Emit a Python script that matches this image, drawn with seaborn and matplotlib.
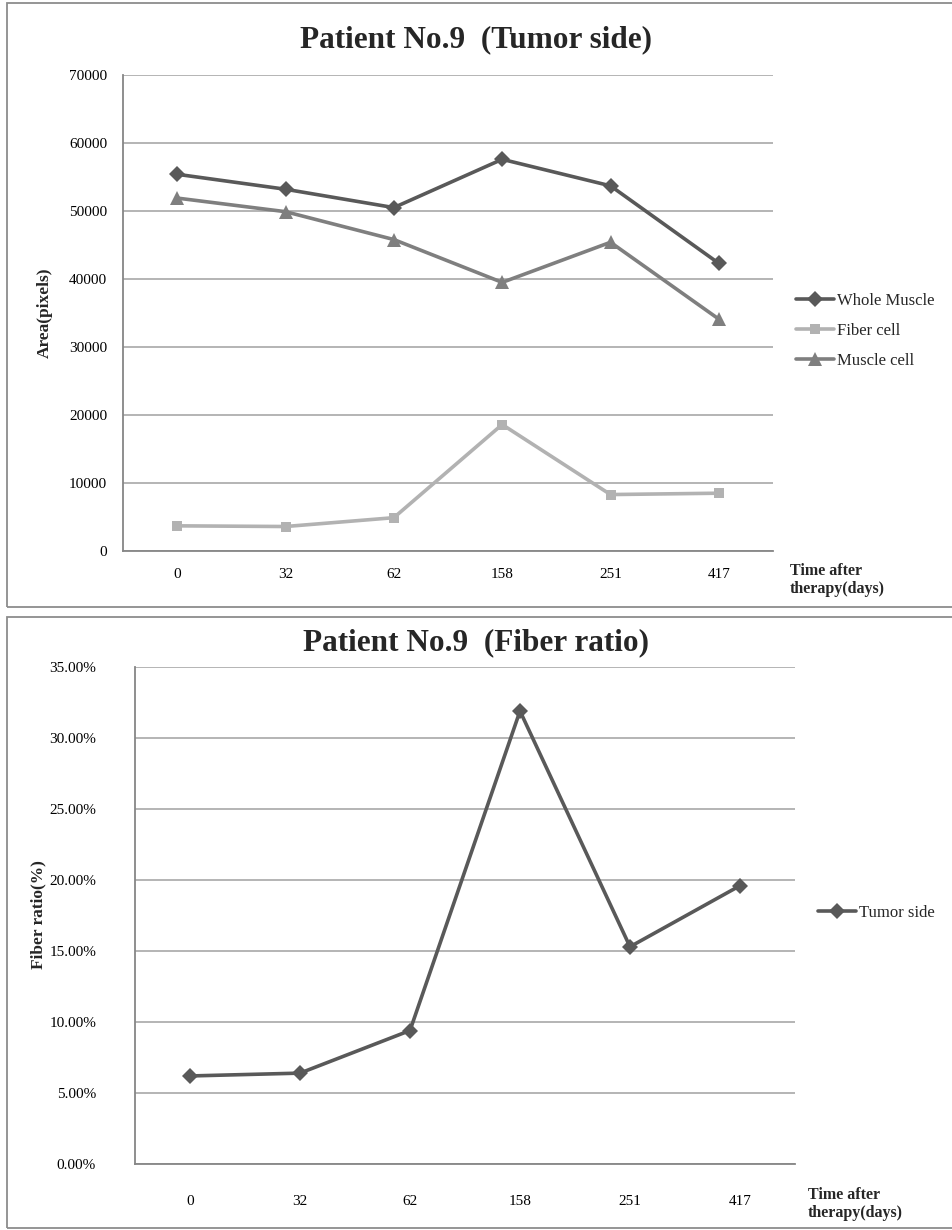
import matplotlib
matplotlib.use("Agg")
import matplotlib.pyplot as plt
from matplotlib.patches import Rectangle
from matplotlib.ticker import FuncFormatter, MultipleLocator
import seaborn as sns
import pandas as pd

# ---- data ----
days = ["0", "32", "62", "158", "251", "417"]
whole_muscle = [55400, 53200, 50500, 57600, 53700, 42300]
fiber_cell = [3700, 3600, 4900, 18600, 8300, 8500]
muscle_cell = [51900, 49900, 45800, 39500, 45400, 34100]
fiber_ratio = [6.2, 6.4, 9.4, 31.9, 15.3, 19.6]   # percent

series_names = ["Whole Muscle", "Fiber cell", "Muscle cell"]
series_colors = ["#595959", "#b2b2b2", "#7f7f7f"]
series_markers = ["D", "s", "^"]
marker_sizes = {"D": 8.0, "s": 7.5, "^": 10.0}

sns.set_theme(style="white")
plt.rcParams["font.family"] = ["Liberation Serif", "DejaVu Serif"]

W, H = 952, 1230
fig = plt.figure(figsize=(W / 100, H / 100), dpi=100)
fig.patch.set_facecolor("white")


def fx(px):
    return px / W


def fy(py):
    return 1 - py / H


def panel(x0, y0, x1, y1):
    fig.add_artist(Rectangle((fx(x0), fy(y1)), fx(x1) - fx(x0), fy(y0) - fy(y1),
                             transform=fig.transFigure, fill=False,
                             edgecolor="#8c8c8c", linewidth=1.3))


def add_axes(x0, y0, x1, y1):
    return fig.add_axes([fx(x0), fy(y1), fx(x1) - fx(x0), fy(y0) - fy(y1)])


def style_axes(ax, ypad, xpad):
    ax.set_facecolor("white")
    ax.grid(axis="y", color="#a0a0a0", linewidth=1.1)
    ax.grid(axis="x", visible=False)
    ax.set_axisbelow(True)
    for s in ["top", "right"]:
        ax.spines[s].set_visible(False)
    for s in ["left", "bottom"]:
        ax.spines[s].set_color("#868686")
        ax.spines[s].set_linewidth(1.3)
    ax.set_xlim(-0.5, len(days) - 0.5)
    ax.tick_params(axis="both", length=0, colors="black", labelsize=11)
    ax.tick_params(axis="y", pad=ypad)
    ax.tick_params(axis="x", pad=xpad)
    ax.set_xlabel("")
    ax.set_ylabel("")
    for ln in ax.lines:
        m = ln.get_marker()
        if m in marker_sizes:
            ln.set_markersize(marker_sizes[m])


def place_legend(ax, ycenter):
    leg = ax.legend(loc="center left", bbox_to_anchor=(1.035, ycenter),
                    frameon=False, fontsize=12, handlelength=2.3,
                    handletextpad=0.15, labelspacing=0.85, borderaxespad=0,
                    borderpad=0)
    for h in leg.legend_handles:
        m = h.get_marker()
        if m in marker_sizes:
            h.set_markersize(marker_sizes[m])
        h.set_linewidth(2.6)
    return leg


# ---- top panel: areas ----
panel(7, 3, 960, 607)
ax1 = add_axes(123, 75, 773, 551)

area_df = pd.DataFrame({
    "day": days * 3,
    "area": whole_muscle + fiber_cell + muscle_cell,
    "series": sum([[n] * len(days) for n in series_names], []),
})
sns.lineplot(data=area_df, x="day", y="area", hue="series", style="series",
             hue_order=series_names, style_order=series_names,
             palette=dict(zip(series_names, series_colors)),
             markers=dict(zip(series_names, series_markers)),
             dashes=False, sort=False, linewidth=2.6,
             markeredgewidth=0, ax=ax1)
ax1.set_ylim(0, 70000)
ax1.yaxis.set_major_locator(MultipleLocator(10000))
style_axes(ax1, ypad=11.5, xpad=12)
place_legend(ax1, 0.462)

fig.text(fx(476), fy(40), "Patient No.9  (Tumor side)", ha="center", va="center",
         fontsize=22.5, fontweight="bold")
fig.text(fx(45), fy(313), "Area(pixels)", ha="center", va="center",
         rotation=90, fontsize=12.5, fontweight="bold")
fig.text(fx(790), fy(580), "Time after\ntherapy(days)", ha="left", va="center",
         fontsize=11.5, fontweight="bold", linespacing=1.15)

# ---- bottom panel: fiber ratio ----
panel(7, 617, 960, 1228)
ax2 = add_axes(135, 667, 795, 1164)

ratio_df = pd.DataFrame({"day": days, "ratio": fiber_ratio,
                         "series": ["Tumor side"] * len(days)})
sns.lineplot(data=ratio_df, x="day", y="ratio", hue="series", style="series",
             palette={"Tumor side": "#595959"}, markers={"Tumor side": "D"},
             dashes=False, sort=False, linewidth=2.6,
             markeredgewidth=0, ax=ax2)
ax2.set_ylim(0, 35)
ax2.yaxis.set_major_locator(MultipleLocator(5))
ax2.yaxis.set_major_formatter(FuncFormatter(lambda v, p: f"{v:.2f}%"))
style_axes(ax2, ypad=28, xpad=22)
place_legend(ax2, 0.505)

fig.text(fx(476), fy(643), "Patient No.9  (Fiber ratio)", ha="center", va="center",
         fontsize=22.5, fontweight="bold")
fig.text(fx(38), fy(915), "Fiber ratio(%)", ha="center", va="center",
         rotation=90, fontsize=12.5, fontweight="bold")
fig.text(fx(808), fy(1204), "Time after\ntherapy(days)", ha="left", va="center",
         fontsize=11.5, fontweight="bold", linespacing=1.15)

fig.savefig("out.png", dpi=100, facecolor="white")
